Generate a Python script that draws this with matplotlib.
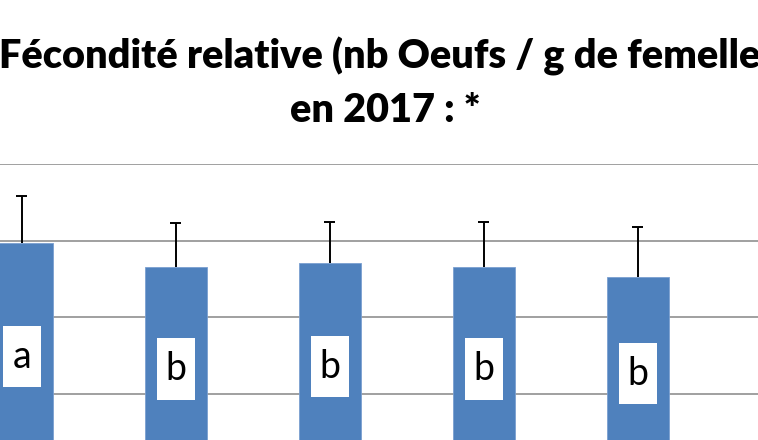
import numpy as np
import matplotlib.pyplot as plt
from matplotlib.patches import Rectangle

plt.rcParams['font.family'] = ['Lato', 'DejaVu Sans']

# data (one gridline = 100)
groups = ['G1', 'G2', 'G3', 'G4', 'G5']
fecondite = [297, 265, 271, 265, 253]
erreur = [61, 58, 53, 59, 65]
lettres = ['a', 'b', 'b', 'b', 'b']
title_l1 = 'Fécondité relative (nb Oeufs / g de femelle)'
title_l2 = 'en 2017 : *'

W, H = 758, 440
fig = plt.figure(figsize=(W / 100, H / 100), dpi=100)

# axes runs past the bottom and left edges: the picture is a crop
y0_px, ytop_px = 470.5, 164.0
ax = fig.add_axes([0, (H - y0_px) / H, 1, (y0_px - ytop_px) / H])
x = np.arange(len(groups))
ax.set_xlim((0 - 22) / 154, (W - 22) / 154)
ax.set_ylim(0, 400)

ax.set_yticks([0, 100, 200, 300, 400])
ax.yaxis.grid(True, color='#A0A0A0', lw=1.4)
ax.set_axisbelow(True)
for s in ax.spines.values():
    s.set_visible(False)
ax.tick_params(left=False, bottom=False, labelleft=False, labelbottom=False)

vals = np.array(fecondite)
tops = vals + np.array(erreur)
ax.bar(x, vals, width=0.40, color='#4F81BD', edgecolor='#7A9FD0',
       lw=0.6, zorder=2)
# upper error bars only, no cap at bar top
cw = 5.5 / 154
ax.vlines(x, vals, tops, color='black', lw=1.4, zorder=3)
ax.hlines(tops, x - cw, x + cw, color='black', lw=1.4, zorder=3)

# letter boxes in the middle of each bar
bw = 38 / 154
bh = 61 / 76.5 * 100
for xi, v, l in zip(x, vals, lettres):
    ax.add_patch(Rectangle((xi - bw / 2, v / 2 - bh / 2), bw, bh,
                           facecolor='white', edgecolor='none', zorder=4))
    ax.text(xi, v / 2, l, ha='center', va='center', fontsize=27,
            color='black', zorder=5)

fig.text(385.5 / W, (H - 68) / H, title_l1, ha='center', va='baseline',
         fontsize=28.5, fontweight='heavy')
fig.text(385.5 / W, (H - 122) / H, title_l2, ha='center', va='baseline',
         fontsize=28.5, fontweight='heavy')

fig.savefig('out.png', dpi=100)
